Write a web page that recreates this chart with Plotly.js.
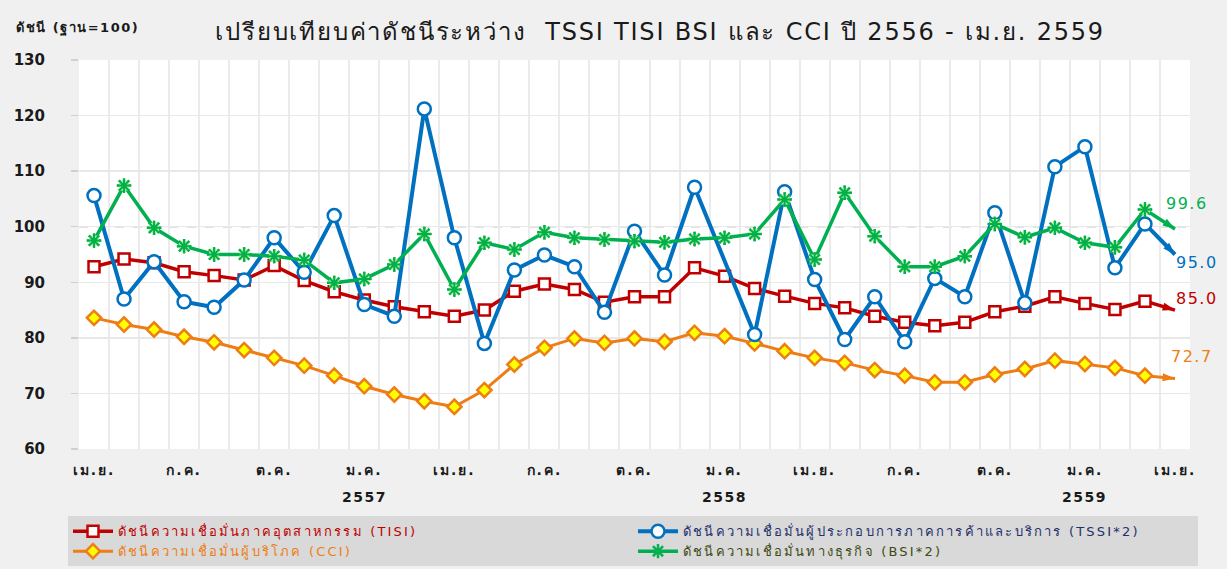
<!DOCTYPE html>
<html>
<head>
<meta charset="utf-8">
<script src="https://cdn.plot.ly/plotly-3.0.1.min.js"></script>
<style>
html,body{margin:0;padding:0;background:#f0f0f0;}
#chart .gtitle{letter-spacing:1.8px;}
#chart .legendtext{letter-spacing:2.2px;}
#chart .xtick text{letter-spacing:2px;}
#chart .annotation-text{letter-spacing:1.5px;}
</style>
</head>
<body>
<div id="chart" style="width:1227px;height:569px;"></div>
<script>
// Months: เม.ย. 2556 ... เม.ย. 2559 (37 months)
const monthIndex = Array.from({length: 37}, (_, i) => i);
const tickPositions = [0, 3, 6, 9, 12, 15, 18, 21, 24, 27, 30, 33, 36];
const tickLabels = ["เม.ย.", "ก.ค.", "ต.ค.", "ม.ค.", "เม.ย.", "ก.ค.", "ต.ค.", "ม.ค.", "เม.ย.", "ก.ค.", "ต.ค.", "ม.ค.", "เม.ย."];
const yearPositions = [9, 21, 33];
const yearLabels = ["2557", "2558", "2559"];

const tisi = [92.8, 94.2, 93.5, 91.9, 91.2, 90.4, 93.0, 90.3, 88.3, 86.8, 85.6, 84.7, 83.9,
              85.0, 88.4, 89.7, 88.7, 86.4, 87.4, 87.4, 92.6, 91.1, 88.9, 87.5, 86.2, 85.4,
              83.9, 82.8, 82.2, 82.8, 84.7, 85.7, 87.4, 86.2, 85.1, 86.6, 85.0];
const tssi = [105.6, 87.0, 93.7, 86.5, 85.5, 90.4, 98.0, 91.8, 102.0, 86.0, 83.9, 121.2, 98.0,
              79.0, 92.2, 94.9, 92.8, 84.6, 99.2, 91.3, 107.1, null, 80.6, 106.3, 90.5, 79.7,
              87.4, 79.3, 90.7, 87.4, 102.5, 86.3, 110.8, 114.4, 92.6, 100.5, 95.0];
const cci  = [83.6, 82.4, 81.5, 80.2, 79.2, 77.8, 76.4, 75.0, 73.2, 71.3, 69.8, 68.6, 67.6,
              70.6, 75.2, 78.2, 79.9, 79.1, 79.9, 79.3, 80.9, 80.3, 79.0, 77.6, 76.4, 75.5,
              74.2, 73.2, 72.0, 72.0, 73.4, 74.4, 75.9, 75.3, 74.6, 73.2, 72.7];
const bsi  = [97.5, 107.4, 99.8, 96.5, 95.0, 95.0, 94.7, 94.0, 89.9, 90.6, 93.2, 98.7, 88.7,
              97.1, 95.9, 99.0, 98.0, 97.7, 97.4, 97.2, 97.8, 98.0, 98.7, 104.9, 94.1, 106.1,
              98.3, 92.8, 92.8, 94.7, 100.5, 98.1, 99.8, 97.1, 96.3, 103.1, 99.6];

const names = {
  tisi: "ดัชนีความเชื่อมั่นภาคอุตสาหกรรม (TISI)",
  tssi: "ดัชนีความเชื่อมั่นผู้ประกอบการภาคการค้าและบริการ (TSSI*2)",
  cci:  "ดัชนีความเชื่อมั่นผู้บริโภค (CCI)",
  bsi:  "ดัชนีความเชื่อมั่นทางธุรกิจ (BSI*2)"
};

const RED = "#c00000", BLUE = "#0070c0", ORANGE = "#ed7d14", GREEN = "#00b050";
const FONT = "'DejaVu Sans', Tahoma, sans-serif";

const last = monthIndex.length - 1;
const hideLast = monthIndex.map(i => i === last ? 0 : 1);

function mainTrace(y, name, color, legendTextColor, symbol, fill, size, lw, rank) {
  return {
    x: monthIndex, y: y, type: "scatter", mode: "lines+markers", connectgaps: true,
    name: '<span style="color:' + legendTextColor + '">' + name + '</span>',
    legendrank: rank,
    line: {color: color, width: lw},
    marker: {symbol: symbol, size: size, color: fill, opacity: hideLast,
             line: {color: color, width: 2.5}},
    hoverinfo: "y"
  };
}
function arrowTrace(y, color) {
  return {
    x: monthIndex.slice(last - 1), y: y.slice(last - 1), type: "scatter", mode: "markers",
    showlegend: false, hoverinfo: "skip",
    marker: {symbol: "arrow", size: [0, 13], color: color, opacity: [0, 1],
             angleref: "previous", line: {width: 0}}
  };
}

const traces = [
  mainTrace(tisi, names.tisi, RED, RED, "square", "#ffffff", 11, 3.5, 1),
  arrowTrace(tisi, RED),
  mainTrace(cci, names.cci, ORANGE, ORANGE, "diamond", "#ffff00", 11, 3, 3),
  arrowTrace(cci, ORANGE),
  mainTrace(tssi, names.tssi, BLUE, "#23306b", "circle", "#ffffff", 13, 4, 2),
  arrowTrace(tssi, BLUE),
  mainTrace(bsi, names.bsi, GREEN, "#3d4a12", "asterisk-open", GREEN, 12, 3.5, 4),
  {
    x: monthIndex.slice(0, last), y: bsi.slice(0, last), type: "scatter", mode: "markers",
    showlegend: false, hoverinfo: "skip",
    marker: {symbol: "square", size: 10, color: "#b4ef86", line: {width: 0}}
  },
  {
    x: monthIndex.slice(0, last), y: bsi.slice(0, last), type: "scatter", mode: "markers",
    showlegend: false, hoverinfo: "skip",
    marker: {symbol: "asterisk-open", size: 12, color: GREEN, line: {color: GREEN, width: 2}}
  },
  arrowTrace(bsi, GREEN)
];

const endLabels = [
  {y: bsi[last], text: bsi[last].toFixed(1), color: GREEN, xs: 12, ys: 25},
  {y: tssi[last], text: tssi[last].toFixed(1), color: BLUE, xs: 22, ys: -8},
  {y: tisi[last], text: tisi[last].toFixed(1), color: RED, xs: 22, ys: 12},
  {y: cci[last], text: cci[last].toFixed(1), color: ORANGE, xs: 17, ys: 22}
];

const annotations = [];
endLabels.forEach(l => annotations.push({
  x: last, y: l.y, xref: "x", yref: "y", text: l.text, showarrow: false,
  xshift: l.xs, yshift: l.ys, xanchor: "center", yanchor: "middle",
  font: {family: FONT, size: 16, color: l.color}
}));
yearPositions.forEach((p, i) => annotations.push({
  x: p, y: -0.1245, xref: "x", yref: "paper", text: yearLabels[i], showarrow: false,
  xanchor: "center", yanchor: "middle",
  font: {family: FONT, size: 14, color: "#1a1a1a", weight: "bold"}
}));
annotations.push({
  x: -0.0576, y: 1.082, xref: "paper", yref: "paper", text: "ดัชนี (ฐาน=100)",
  showarrow: false, xanchor: "left", yanchor: "middle", xshift: 9,
  font: {family: FONT, size: 13, color: "#1a1a1a", weight: "bold"}
});

const layout = {
  width: 1227, height: 569,
  paper_bgcolor: "#f0f0f0", plot_bgcolor: "#ffffff",
  margin: {l: 79, r: 37, t: 60, b: 120, autoexpand: false},
  title: {
    text: "เปรียบเทียบค่าดัชนีระหว่าง  TSSI TISI BSI และ CCI ปี 2556 - เม.ย. 2559",
    xref: "container", yref: "container", x: 0.538, y: 0.945,
    xanchor: "center", yanchor: "middle",
    font: {family: FONT, size: 24, color: "#1a1a1a"}
  },
  xaxis: {
    range: [-0.5, 36.5], tickmode: "array", tickvals: tickPositions, ticktext: tickLabels,
    showgrid: false, zeroline: false, showline: false, ticks: "", automargin: false,
    ticklabelstandoff: 11,
    tickfont: {family: FONT, size: 14, color: "#1a1a1a", weight: "bold"},
    minor: {tickmode: "linear", tick0: -0.5, dtick: 1, showgrid: true,
            gridcolor: "#ebebeb", gridwidth: 2, ticks: ""}
  },
  yaxis: {
    range: [60, 130], dtick: 10, tick0: 60, automargin: false,
    showgrid: true, gridcolor: "#e8e8e8", gridwidth: 1.5, zeroline: false,
    showline: false, ticks: "outside", ticklen: 7, tickcolor: "#d0d0d0", tickwidth: 1.5,
    ticklabelstandoff: 23,
    tickfont: {family: FONT, size: 15, color: "#1a1a1a", weight: "bold"}
  },
  shapes: [{
    type: "line", xref: "paper", yref: "y", x0: 0, x1: 1, y0: 100, y1: 100,
    layer: "between", line: {color: "#c4c4c4", width: 1.5, dash: "dash"}
  }],
  showlegend: true,
  legend: {
    orientation: "h", x: -0.0099, y: -0.173, xanchor: "left", yanchor: "top",
    bgcolor: "#d9d9d9", entrywidth: 510, entrywidthmode: "pixels",
    font: {family: FONT, size: 13, color: "#333"}, itemwidth: 40,
    tracegroupgap: 0
  },
  annotations: annotations
};

Plotly.newPlot("chart", traces, layout, {displayModeBar: false, staticPlot: true});
</script>
</body>
</html>
